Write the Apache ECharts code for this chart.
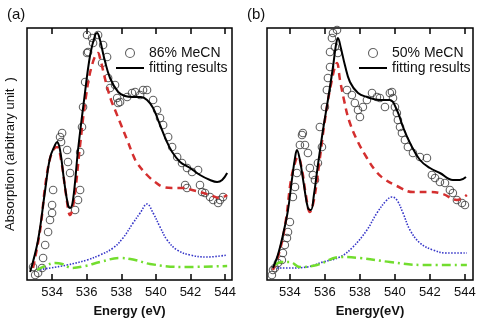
<!DOCTYPE html>
<html>
<head>
<meta charset="utf-8">
<script src="https://cdn.jsdelivr.net/npm/echarts@6/dist/echarts.min.js"></script>
<style>
  html, body { margin: 0; padding: 0; background: #fff; }
  #chart { width: 480px; height: 328px; }
</style>
</head>
<body>
<div id="chart"></div>
<script>
// energy ticks shown on both panels (eV)
var tickLabels = [534, 536, 538, 540, 542, 544];

// panel (a) 86% MeCN : [energy, absorption (arb.)]
var aData = [[532.90,13],[533.02,5],[533.19,7],[533.42,12],[533.48,22],[533.60,35],[533.77,48],[533.88,60],
  [534.00,67],[534.00,75],[534.06,90],[534.46,143],[534.58,147],[534.52,138],[534.87,130],[534.92,118],
  [535.04,107],[535.33,70],[535.50,80],[535.62,90],[535.62,128],[535.73,153],[535.79,173],[535.91,198],
  [536.02,227],[536.02,245],[536.08,228],[536.31,242],[536.37,237],[536.66,245],[536.95,235],[536.89,217],
  [537.18,223],[537.24,202],[537.35,192],[537.64,195],[537.76,182],[537.82,177],[537.93,178],[538.34,183],
  [538.62,187],[538.80,188],[539.09,185],[539.26,190],[539.49,190],[539.84,180],[540.07,170],[540.24,162],
  [540.42,155],[540.71,143],[540.94,133],[541.23,123],[541.51,117],[541.80,112],[542.09,108],[542.44,110],
  [541.69,95],[541.80,92],[542.55,95],[542.67,88],[542.84,87],[543.13,83],[543.31,80],[543.60,77],
  [543.71,80],[543.88,83]];
var aFit = [[532.73,8],[533.19,40],[533.60,90],[533.88,122],[534.17,135],[534.29,138],[534.46,130],[534.69,100],
  [534.92,75],[535.04,72],[535.21,80],[535.50,130],[535.85,180],[536.20,225],[536.49,245],[536.60,247],
  [536.77,240],[537.01,222],[537.35,202],[537.82,188],[538.22,184],[538.68,183],[539.14,183],[539.49,180],
  [539.84,172],[540.24,155],[540.59,140],[540.94,128],[541.40,118],[541.98,112],[542.55,105],[543.13,100],
  [543.54,98],[543.83,100],[544.12,107]];
var aPeak1 = [[532.90,12],[533.31,50],[533.65,100],[534.00,128],[534.29,133],[534.52,120],[534.81,85],[535.04,65],
  [535.27,80],[535.62,135],[535.97,185],[536.31,215],[536.66,227],[536.77,222],[537.01,205],[537.18,193],
  [537.41,180],[537.64,170],[537.99,155],[538.34,140],[538.68,125],[538.91,117],[539.49,105],[539.95,98],
  [540.42,93],[540.94,92],[541.57,92],[542.09,90],[542.55,88],[543.13,85],[543.71,82],[544.12,85]];
var aPeak2 = [[533.13,10],[533.88,12],[534.87,15],[536.02,20],[536.77,25],[537.53,32],[538.10,42],[538.68,57],
  [539.09,67],[539.49,76],[539.84,67],[540.24,53],[540.65,40],[541.23,30],[541.98,25],[542.96,23],[544.12,25]];
var aBack = [[533.13,10],[533.60,14],[534.17,17],[534.58,16],[535.16,12],[535.91,14],[536.77,18],[537.93,22],
  [538.80,20],[539.66,16],[541.57,13],[544.12,14]];

// panel (b) 50% MeCN
var bData = [[532.97,5],[533.03,10],[533.14,12],[533.31,17],[533.54,20],[533.60,27],[533.71,35],[533.83,42],
  [533.89,48],[534.00,58],[534.17,83],[534.29,93],[534.40,107],[534.57,135],[534.69,145],[534.74,147],
  [534.86,135],[535.03,127],[535.14,112],[535.31,105],[535.43,100],[535.60,117],[535.83,133],[535.71,153],
  [536.00,173],[536.11,190],[536.17,202],[536.29,213],[536.29,228],[536.40,242],[536.46,247],[536.57,233],
  [536.69,250],[536.74,227],[537.26,190],[537.54,185],[537.71,177],[537.89,170],[538.00,163],[538.17,173],
  [538.40,180],[538.69,187],[538.97,183],[539.14,182],[539.43,173],[539.71,187],[539.83,188],[539.89,182],
  [540.00,173],[540.11,167],[540.17,160],[540.29,153],[540.40,147],[540.57,140],[540.74,133],[541.03,127],
  [541.43,123],[541.83,122],[542.11,105],[542.29,102],[542.57,98],[542.86,97],[543.14,90],[543.31,87],
  [543.54,80],[543.83,77],[544.00,75]];
var bFit = [[533.03,12],[533.31,25],[533.60,45],[533.89,70],[534.11,100],[534.29,122],[534.40,130],[534.57,120],
  [534.80,95],[535.03,72],[535.20,70],[535.37,85],[535.60,115],[535.89,150],[536.17,180],[536.46,213],
  [536.63,235],[536.74,242],[536.91,232],[537.14,215],[537.43,198],[537.89,187],[538.40,183],[539.14,180],
  [539.71,180],[540.11,170],[540.46,153],[540.86,137],[541.43,120],[542.00,112],[542.57,107],[543.31,100],
  [543.71,100],[544.06,103]];
var bPeak1 = [[533.03,10],[533.43,30],[533.77,60],[534.06,100],[534.34,120],[534.46,123],[534.69,110],[534.91,85],
  [535.14,68],[535.37,80],[535.66,115],[536.00,160],[536.34,195],[536.69,217],[536.86,200],[537.09,180],
  [537.37,160],[537.83,140],[538.40,122],[538.86,110],[539.31,102],[540.11,94],[541.03,88],[542.00,88],
  [542.74,86],[543.54,80],[544.11,85]];
var bPeak2 = [[533.26,12],[534.00,12],[534.97,13],[535.89,18],[536.86,23],[537.60,33],[538.40,50],[538.97,67],
  [539.54,80],[539.83,83],[540.11,80],[540.46,67],[540.86,50],[541.43,37],[542.17,30],[542.97,27],[544.11,27]];
var bBack = [[533.14,15],[533.54,18],[534.00,18],[534.57,13],[535.54,15],[536.86,23],[538.00,22],[539.71,18],
  [541.60,15],[544.11,15]];

var FONT = '"Liberation Sans", Arial, sans-serif';
var chart = echarts.init(document.getElementById('chart'));

function xAxes(gridIndex, min, max, name) {
    var tick = { inside: true, length: 6, customValues: tickLabels, lineStyle: { color: '#000', width: 1.5 } };
    return [{
        type: 'value', gridIndex: gridIndex, min: min, max: max, position: 'bottom',
        axisLine: { show: false }, splitLine: { show: false }, axisTick: tick,
        axisLabel: { customValues: tickLabels, color: '#111', fontSize: 13, margin: 6, fontFamily: FONT },
        name: name, nameLocation: 'middle', nameGap: 25,
        nameTextStyle: { color: '#111', fontSize: 13, fontWeight: 'bold', fontFamily: FONT }
    }, {
        type: 'value', gridIndex: gridIndex, min: min, max: max, position: 'top',
        axisLine: { show: false }, splitLine: { show: false }, axisTick: tick,
        axisLabel: { show: false }
    }];
}

function yAxis(gridIndex, name) {
    return {
        type: 'value', gridIndex: gridIndex, min: 0, max: 252,
        axisLine: { show: false }, axisTick: { show: false }, axisLabel: { show: false }, splitLine: { show: false },
        name: name, nameLocation: 'middle', nameGap: 10,
        nameTextStyle: { color: '#111', fontSize: 13, fontFamily: FONT }
    };
}

function panelSeries(axisIdx, label, data, fit, p1, p2, bg) {
    var ax = { xAxisIndex: axisIdx * 2, yAxisIndex: axisIdx };
    return [
        Object.assign({ type: 'line', name: 'p1', data: p1, symbol: 'none', smooth: 0.4, silent: true,
            lineStyle: { color: '#d42f2f', width: 2.5, type: [7, 5] } }, ax),
        Object.assign({ type: 'line', name: 'p2', data: p2, symbol: 'none', smooth: 0.4, silent: true,
            lineStyle: { color: '#3535c8', width: 1.6, type: [1.5, 1.5] } }, ax),
        Object.assign({ type: 'line', name: 'bg', data: bg, symbol: 'none', smooth: 0.4, silent: true,
            lineStyle: { color: '#72dd2e', width: 2.5, type: [9, 4, 2, 4] } }, ax),
        Object.assign({ type: 'scatter', name: label, data: data, symbol: 'circle', symbolSize: 7.5,
            itemStyle: { color: 'rgba(0,0,0,0)', borderColor: '#3a3a3a', borderWidth: 1.1 } }, ax),
        Object.assign({ type: 'line', name: 'fitting results', data: fit, symbol: 'none', smooth: 0.4,
            itemStyle: { color: '#000' }, lineStyle: { color: '#000', width: 2 } }, ax)
    ];
}

function legend(left, label) {
    return {
        data: [
            { name: label, icon: 'circle', itemStyle: { color: 'rgba(0,0,0,0)', borderColor: '#3a3a3a', borderWidth: 1.1 } },
            { name: 'fitting results', icon: 'path://M0,0 L28,0 L28,2 L0,2 Z', itemStyle: { color: '#000' } }
        ],
        orient: 'vertical', left: left, top: 41, padding: 5,
        itemWidth: 28, itemHeight: 9, itemGap: 1, selectedMode: false,
        textStyle: { color: '#111', fontSize: 14, lineHeight: 14, fontFamily: FONT }
    };
}

var options = {
    animation: false,
    title: [
        { text: '(a)', left: 2, top: 2, textStyle: { fontSize: 15, fontWeight: 'normal', color: '#111', fontFamily: FONT } },
        { text: '(b)', left: 242, top: 2, textStyle: { fontSize: 15, fontWeight: 'normal', color: '#111', fontFamily: FONT } }
    ],
    grid: [
        { left: 27, top: 28, width: 205, height: 252, show: true, borderColor: '#000', borderWidth: 1.5 },
        { left: 267, top: 28, width: 206, height: 252, show: true, borderColor: '#000', borderWidth: 1.5 }
    ],
    legend: [legend(111, '86% MeCN'), legend(354, '50% MeCN')],
    xAxis: xAxes(0, 532.55, 544.4, 'Energy (eV)').concat(xAxes(1, 532.69, 544.46, 'Energy(eV)')),
    yAxis: [yAxis(0, 'Absorption (arbitrary unit  )'), yAxis(1, '')],
    series: panelSeries(0, '86% MeCN', aData, aFit, aPeak1, aPeak2, aBack)
        .concat(panelSeries(1, '50% MeCN', bData, bFit, bPeak1, bPeak2, bBack))
};
chart.setOption(options);
</script>
</body>
</html>
